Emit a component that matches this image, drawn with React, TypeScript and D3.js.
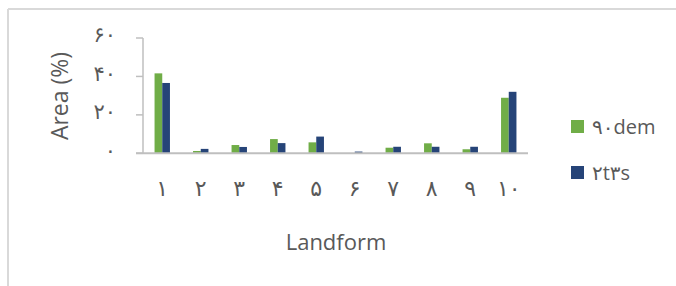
import React, { useEffect, useRef } from 'react';
import * as d3 from 'd3';

const categories = ['۱', '۲', '۳', '۴', '۵', '۶', '۷', '۸', '۹', '۱۰'];
const seriesNames = ['۹۰dem', '۲t۳s'];
const dem90 = [41.6, 1.2, 4.3, 7.4, 5.7, 0, 2.9, 5.2, 2.1, 28.9];
const t23s = [36.6, 2.3, 3.3, 5.3, 8.7, 0.9, 3.4, 3.4, 3.4, 32.0];
const yTicks = [0, 20, 40, 60];
const yTickLabels = ['۰', '۲۰', '۴۰', '۶۰'];

const colors = ['#70AD47', '#264478'];

const width = 676;
const height = 286;

const App: React.FC = () => {
  const ref = useRef<SVGSVGElement | null>(null);

  useEffect(() => {
    if (!ref.current) return;
    const svg = d3.select(ref.current).html('');

    // outer frame (top and left edges visible)
    svg.append('line').attr('x1', 8).attr('x2', width).attr('y1', 9).attr('y2', 9)
      .attr('stroke', '#d9d9d9').attr('stroke-width', 2);
    svg.append('line').attr('x1', 8).attr('x2', 8).attr('y1', 9).attr('y2', height)
      .attr('stroke', '#d9d9d9').attr('stroke-width', 2);

    const x0 = d3.scaleBand<string>()
      .domain(categories)
      .range([143, 528])
      .paddingInner(0.6)
      .paddingOuter(0.3);

    const x1 = d3.scaleBand<number>()
      .domain([0, 1])
      .range([0, x0.bandwidth()]);

    const y = d3.scaleLinear().domain([0, 60]).range([153.3, 38]);

    // y axis line and ticks
    svg.append('line').attr('x1', 143).attr('x2', 143).attr('y1', y(60)).attr('y2', y(0))
      .attr('stroke', '#bfbfbf').attr('stroke-width', 1.5);
    svg.selectAll('.ytick').data(yTicks).enter().append('line')
      .attr('x1', 136).attr('x2', 143)
      .attr('y1', (d) => y(d)).attr('y2', (d) => y(d))
      .attr('stroke', '#bfbfbf').attr('stroke-width', 1.5);

    svg.selectAll('.ylab').data(yTicks).enter().append('text')
      .attr('x', 116)
      .attr('y', (d) => y(d))
      .attr('dy', '0.2em')
      .attr('text-anchor', 'end')
      .attr('font-family', 'DejaVu Sans, sans-serif')
      .attr('font-size', 21)
      .attr('fill', '#595959')
      .text((_, i) => yTickLabels[i]);

    // bars
    const series = [dem90, t23s];
    series.forEach((vals, s) => {
      svg.append('g').selectAll('rect').data(vals).enter().append('rect')
        .attr('x', (_, i) => x0(categories[i])! + x1(s)!)
        .attr('y', (d) => y(d))
        .attr('width', x1.bandwidth())
        .attr('height', (d) => y(0) - y(d))
        .attr('fill', colors[s]);
    });

    // x axis baseline
    svg.append('line').attr('x1', 136).attr('x2', 528).attr('y1', y(0)).attr('y2', y(0))
      .attr('stroke', '#bfbfbf').attr('stroke-width', 2);

    svg.selectAll('.xlab').data(categories).enter().append('text')
      .attr('x', (d) => x0(d)! + x0.bandwidth() / 2)
      .attr('y', 190)
      .attr('dy', '0.25em')
      .attr('text-anchor', 'middle')
      .attr('font-family', 'DejaVu Sans, sans-serif')
      .attr('font-size', 22)
      .attr('fill', '#595959')
      .text((d) => d);

    // axis titles
    svg.append('text')
      .attr('transform', 'translate(60, 96) rotate(-90)')
      .attr('text-anchor', 'middle')
      .attr('dy', '0.35em')
      .attr('font-family', 'Open Sans, sans-serif')
      .attr('font-size', 23)
      .attr('fill', '#595959')
      .text('Area (%)');

    svg.append('text')
      .attr('x', 336)
      .attr('y', 250)
      .attr('text-anchor', 'middle')
      .attr('font-family', 'Open Sans, sans-serif')
      .attr('font-size', 22)
      .attr('fill', '#595959')
      .text('Landform');

    // legend
    const legend = svg.selectAll('.legend').data(seriesNames).enter().append('g')
      .attr('transform', (_, i) => `translate(571, ${120 + i * 46})`);
    legend.append('rect').attr('width', 13).attr('height', 13).attr('fill', (_, i) => colors[i]);
    legend.append('text')
      .attr('x', 21)
      .attr('y', 6.5)
      .attr('dy', '0.35em')
      .attr('font-family', 'Open Sans, DejaVu Sans, sans-serif')
      .attr('font-size', 20)
      .attr('fill', '#595959')
      .text((d) => d);
  }, []);

  return (
    <div style={{ position: 'absolute', left: 0, top: 0 }}>
      <svg ref={ref} width={width} height={height} style={{ display: 'block', background: '#fff' }}></svg>
    </div>
  );
};

export default App;
